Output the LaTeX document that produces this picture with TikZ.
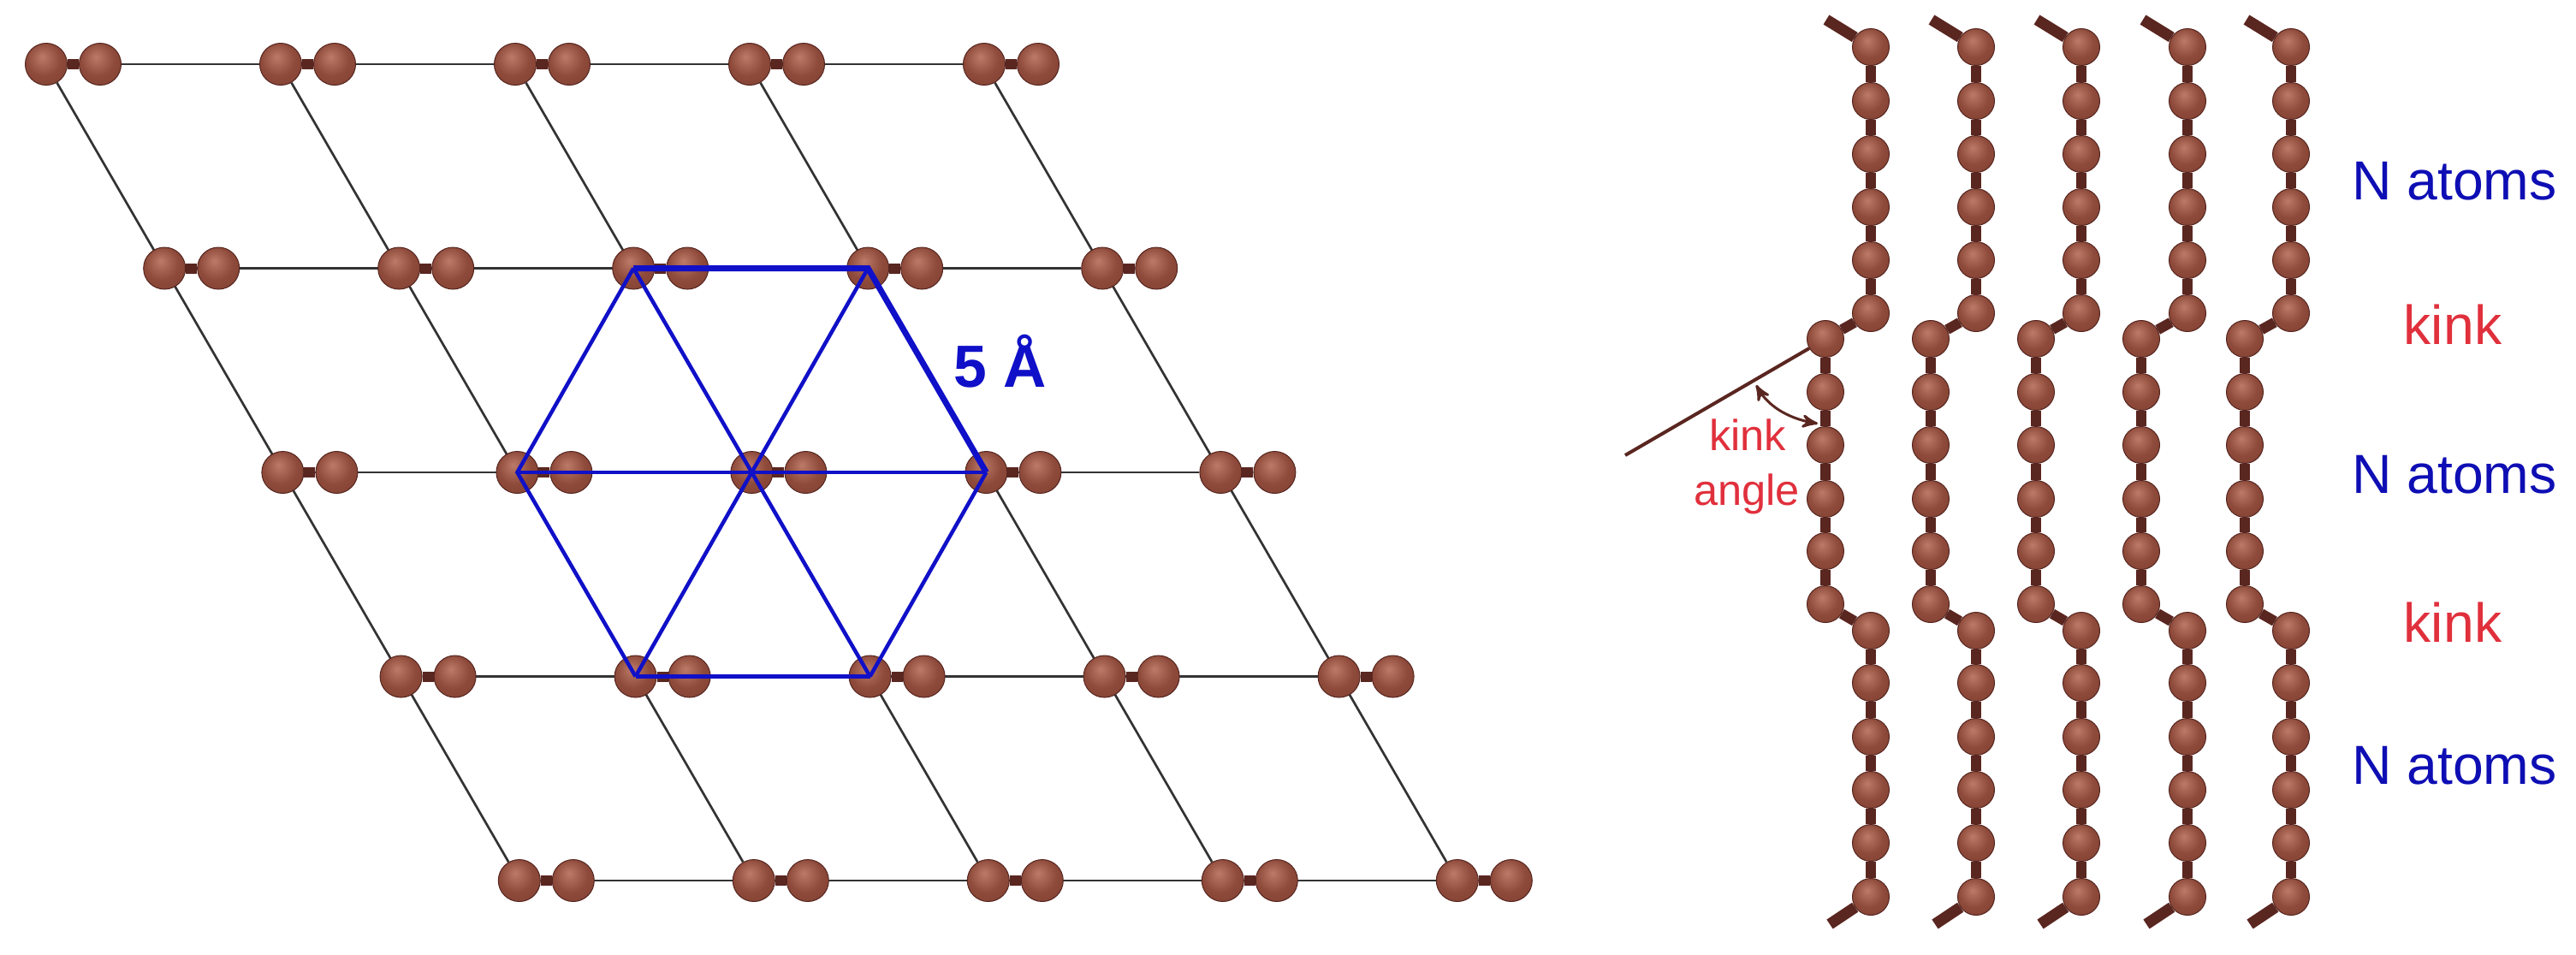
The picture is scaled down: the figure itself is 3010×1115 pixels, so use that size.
\documentclass[tikz,border=0pt]{standalone}
\usepackage{fontspec}
\setmainfont{Liberation Sans}
\usepackage{tikz}
\usetikzlibrary{arrows}
\usetikzlibrary{backgrounds}
\definecolor{atomlight}{HTML}{BC7A68}
\definecolor{atommid}{HTML}{8E4A3A}
\definecolor{atomdark}{HTML}{54241E}
\definecolor{bondcolor}{HTML}{5A2620}
\definecolor{hexblue}{HTML}{1010C8}
\definecolor{kinkred}{HTML}{E0303C}
\pgfdeclareradialshading{atomball}{\pgfpoint{-5bp}{9bp}}{%
  color(0bp)=(atomlight); color(20bp)=(atommid); color(40bp)=(atommid!75!atomdark); color(58bp)=(atomdark)}
\tikzset{
  atom/.style={circle, inner sep=0pt, shade, shading=atomball, draw=atomdark, line width=0.1mm},
  latticeatom/.style={atom, minimum size=4.9mm},
  chainatom/.style={atom, minimum size=4.3mm},
  gridline/.style={draw=black!80, line width=0.27mm},
  bondline/.style={draw=bondcolor, line width=1.2mm},
  stubline/.style={draw=bondcolor, line width=1.3mm},
  hexline/.style={draw=hexblue, line width=0.45mm},
  hexthick/.style={draw=hexblue, line width=0.7mm},
  anglabel/.style={font=\fontsize{14.4pt}{15pt}\selectfont, text=kinkred},
  bluelabel/.style={font=\fontsize{18.3pt}{20pt}\selectfont, text=hexblue!90!black},
  redlabel/.style={font=\fontsize{18.3pt}{20pt}\selectfont, text=kinkred}
}

\begin{document}
\begin{tikzpicture}[x=0.1mm, y=-0.1mm]
  \useasboundingbox (0,0) rectangle (3010,1115);

  % lattice
  \foreach \r in {0,...,4}
    \foreach \c in {0,...,4} {
      \node[latticeatom] (a-\r-\c) at (54+138.2*\r+274*\c, 75+238.5*\r) {};
      \node[latticeatom] (b-\r-\c) at (117+138.2*\r+274*\c, 75+238.5*\r) {};
    }
  \begin{scope}[on background layer]
    \foreach \r in {0,...,4} {
      \draw[gridline] (a-\r-0) -- (a-\r-4);
      \draw[bondline] (a-\r-4) -- (b-\r-4);
      \foreach \c in {0,...,3}
        \draw[bondline] (a-\r-\c) -- (b-\r-\c);
    }
    \foreach \c in {0,...,4}
      \draw[gridline] (a-0-\c) -- (a-4-\c);
  \end{scope}

  % hexagon
  \draw[hexthick] (a-1-2.center) -- (a-1-3.center) -- (a-2-3.center);
  \draw[hexline] (a-2-3.center) -- (a-3-2.center);
  \draw[hexline] (a-3-2.center) -- (a-3-1.center);
  \draw[hexline] (a-3-1.center) -- (a-2-1.center) -- (a-1-2.center);
  \draw[hexline] (a-2-1.center) -- (a-2-3.center);
  \draw[hexline] (a-1-2.center) -- (a-3-2.center);
  \draw[hexline] (a-1-3.center) -- (a-3-1.center);
  \node[font=\fontsize{19.8pt}{22pt}\selectfont\bfseries, text=hexblue, anchor=base] (hexlabel) at (1169, 452) {5 Å};

  % chains
  \foreach \k/\xr/\xl in {1/2186/2133, 2/2309/2256, 3/2432/2379, 4/2556/2502, 5/2677/2623} {
    \foreach \n/\y in {1/55, 2/118, 3/180, 4/242, 5/304, 6/366}
      \node[chainatom] (c-\k-\n) at (\xr, \y) {};
    \foreach \n/\y in {7/396, 8/458, 9/520, 10/583, 11/644, 12/706}
      \node[chainatom] (c-\k-\n) at (\xl, \y) {};
    \foreach \n/\y in {13/737, 14/798, 15/861, 16/923, 17/985, 18/1048}
      \node[chainatom] (c-\k-\n) at (\xr, \y) {};
    \coordinate (top-\k) at (\xr-52, 23);
    \coordinate (bot-\k) at (\xr-48, 1080);
    \begin{scope}[on background layer]
      \draw[stubline] (c-\k-1) -- (top-\k);
      \draw[stubline] (c-\k-18) -- (bot-\k);
      \foreach \n [evaluate=\n as \m using int(\n+1)] in {1,...,17}
        \draw[bondline] (c-\k-\n) -- (c-\k-\m);
    \end{scope}
  }

  % kink angle
  \coordinate (angend) at (1899, 532);
  \coordinate (arcstart) at (2052, 450);
  \coordinate (arcend) at (2124, 495);
  \draw[draw=bondcolor, line width=0.4mm] (c-1-7) -- (angend);
  \draw[draw=bondcolor, line width=0.3mm, <->, >=stealth'] (arcstart) .. controls (2068, 478) and (2095, 490) .. (arcend);
  \node[anglabel, anchor=base] (kinklabel) at (2042, 526) {kink};
  \node[anglabel, anchor=base] (anglelabel) at (2041, 590) {angle};

  % labels
  \node[bluelabel] (natoms1) at (2868, 212) {N atoms};
  \node[redlabel, anchor=base] (kink1) at (2866, 402) {kink};
  \node[bluelabel] (natoms2) at (2868, 555) {N atoms};
  \node[redlabel, anchor=base] (kink2) at (2866, 750) {kink};
  \node[bluelabel] (natoms3) at (2868, 895) {N atoms};
\end{tikzpicture}
\end{document}
